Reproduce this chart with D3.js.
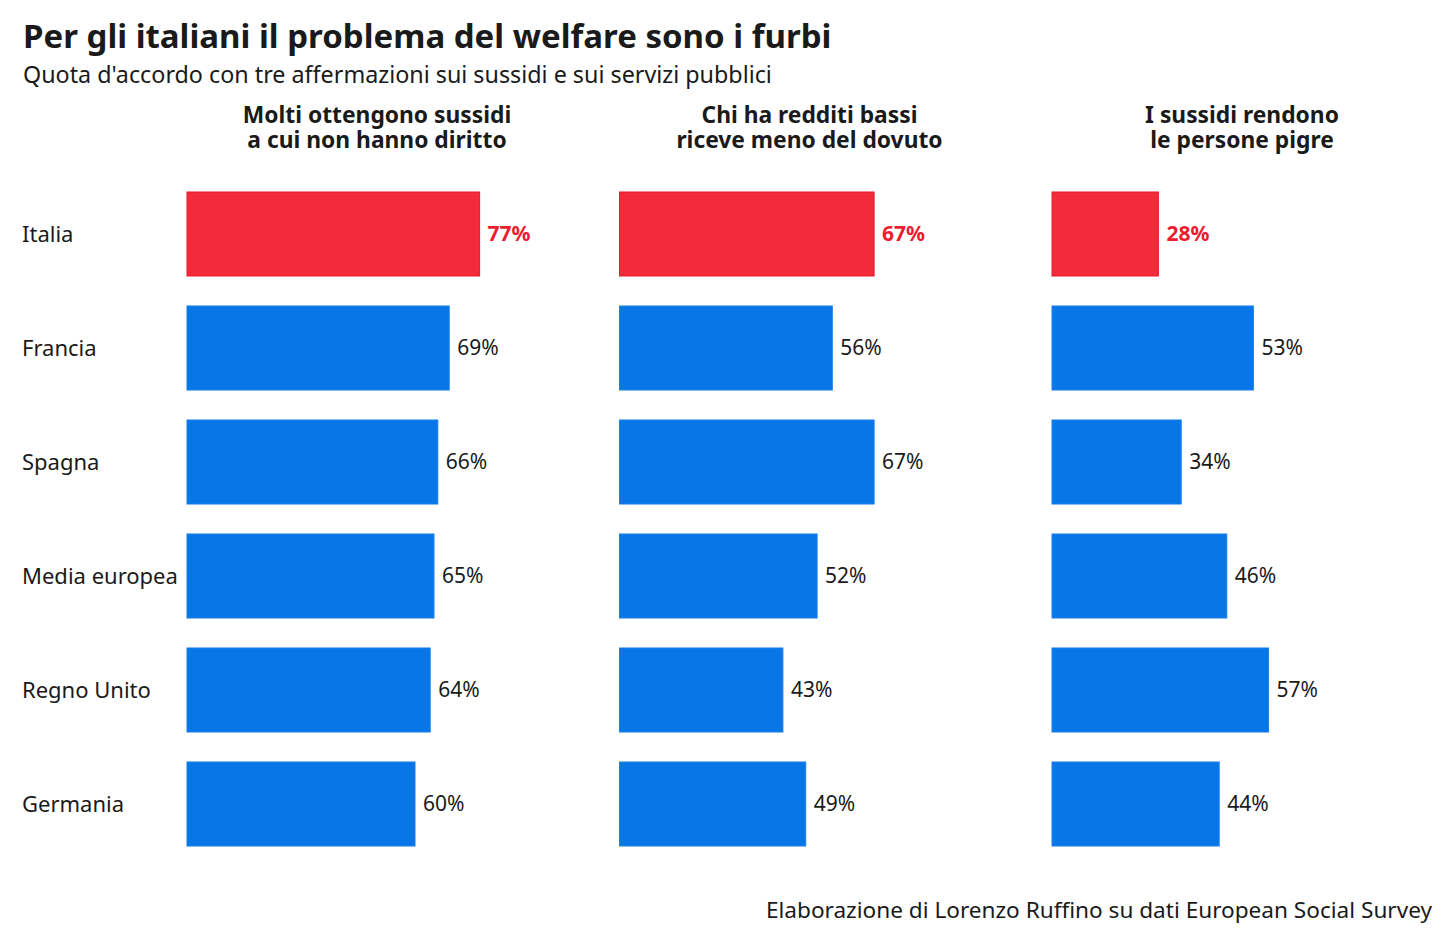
<!DOCTYPE html>
<html>
<head>
<meta charset="utf-8">
<script src="https://cdn.jsdelivr.net/npm/d3@7"></script>
<style>
    body { margin: 0; background: #fff; }
    svg text { font-family: "Noto Sans", "Lato", sans-serif; fill: #1a1a1a; }
</style>
</head>
<body>
<div class="chart"></div>
<script>
// data
const countries = ["Italia", "Francia", "Spagna", "Media europea", "Regno Unito", "Germania"];
const panelTitles = [
    ["Molti ottengono sussidi", "a cui non hanno diritto"],
    ["Chi ha redditi bassi", "riceve meno del dovuto"],
    ["I sussidi rendono", "le persone pigre"],
];
const abusi = [77, 69, 66, 65, 64, 60];
const redditiBassi = [67, 56, 67, 52, 43, 49];
const pigri = [28, 53, 34, 46, 57, 44];
const series = [abusi, redditiBassi, pigri];

const widthMax = 1456;
const heightMax = 946;
const panelLeft = 187;
const panelStep = 432.5;
const panelWidth = 380;

const red = "#f22a3a";
const blue = "#0777e8";

const svg = d3.select(".chart")
    .append("svg")
    .attr("width", widthMax)
    .attr("height", heightMax);

// titles
svg.append("text")
    .text("Per gli italiani il problema del welfare sono i furbi")
    .attr("x", 23)
    .attr("y", 48)
    .style("font-size", "33px")
    .style("font-weight", 700);

svg.append("text")
    .text("Quota d'accordo con tre affermazioni sui sussidi e sui servizi pubblici")
    .attr("x", 23)
    .attr("y", 83)
    .style("font-size", "23.3px");

const yScale = d3.scaleBand()
    .domain(countries)
    .range([177, 861])
    .paddingInner(0.263)
    .paddingOuter(0.1315);

const xScale = d3.scaleLinear()
    .domain([0, 100])
    .range([0, panelWidth]);

// row labels
svg.selectAll(".rowLabel")
    .data(countries)
    .enter()
    .append("text")
    .attr("class", "rowLabel")
    .text(d => d)
    .attr("x", 22)
    .attr("y", d => yScale(d) + yScale.bandwidth() / 2)
    .attr("dy", "0.35em")
    .style("font-size", "22px");

series.forEach((values, p) => {
    const g = svg.append("g")
        .attr("transform", "translate(" + (panelLeft + p * panelStep) + ",0)");

    g.append("text")
        .attr("x", panelWidth / 2)
        .attr("y", 123)
        .attr("text-anchor", "middle")
        .style("font-size", "22.8px")
        .style("font-weight", 700)
        .selectAll("tspan")
        .data(panelTitles[p])
        .enter()
        .append("tspan")
        .attr("x", panelWidth / 2)
        .attr("dy", (d, i) => i === 0 ? 0 : 25)
        .text(d => d);

    const rows = values.map((v, i) => ({ country: countries[i], value: v }));

    g.selectAll(".bar")
        .data(rows)
        .enter()
        .append("rect")
        .attr("class", "bar")
        .attr("x", xScale(0))
        .attr("y", d => yScale(d.country))
        .attr("width", d => xScale(d.value))
        .attr("height", yScale.bandwidth())
        .attr("fill", d => d.country === "Italia" ? red : blue)
        .attr("stroke", d => d.country === "Italia" ? "#e81a2c" : "#1a7fe8")
        .attr("stroke-width", 1);

    g.selectAll(".value")
        .data(rows)
        .enter()
        .append("text")
        .attr("class", "value")
        .text(d => d.value + "%")
        .attr("x", d => xScale(d.value) + 8)
        .attr("y", d => yScale(d.country) + yScale.bandwidth() / 2)
        .attr("dy", "0.35em")
        .style("font-size", "21px")
        .style("font-weight", d => d.country === "Italia" ? 700 : 400)
        .style("fill", d => d.country === "Italia" ? "#ed1c2e" : "#1a1a1a");
});

// source
svg.append("text")
    .text("Elaborazione di Lorenzo Ruffino su dati European Social Survey")
    .attr("x", 1432)
    .attr("y", 918)
    .attr("text-anchor", "end")
    .style("font-size", "22.6px");
</script>
</body>
</html>
